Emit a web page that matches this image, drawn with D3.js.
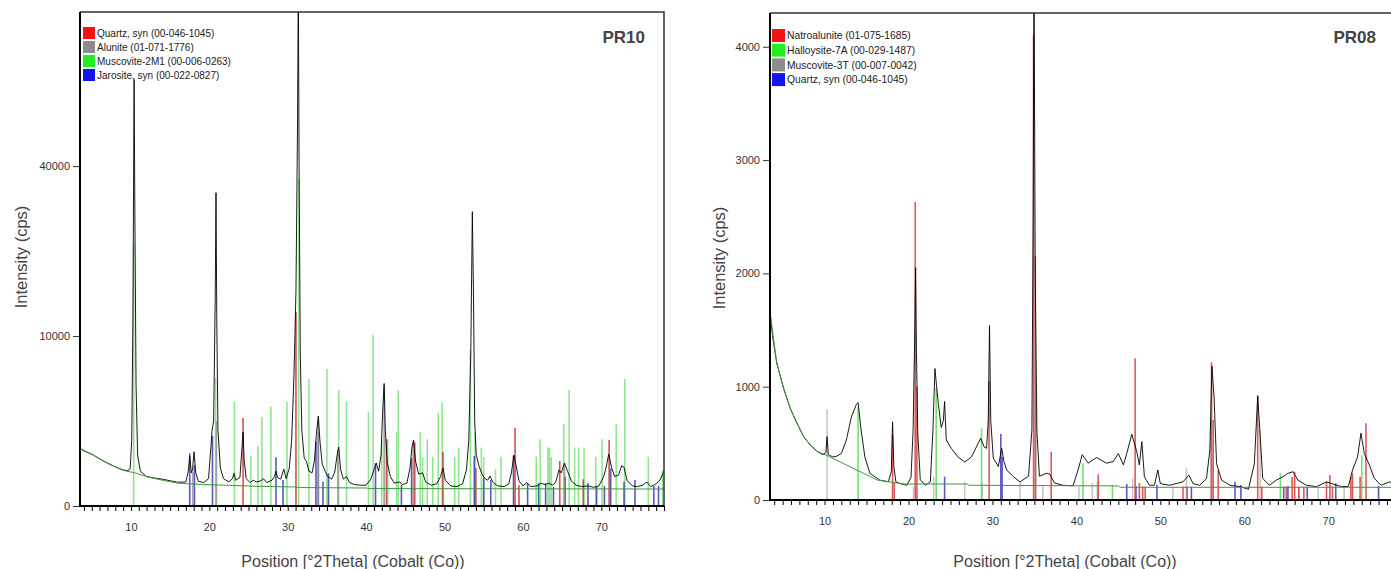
<!DOCTYPE html>
<html>
<head>
<meta charset="utf-8">
<script src="https://cdnjs.cloudflare.com/ajax/libs/d3/7.8.5/d3.min.js"></script>
<style>
body{margin:0;background:#fff;}
svg{display:block;font-family:"Liberation Sans",Arial,sans-serif;}
</style>
</head>
<body>
<svg id="chart" width="1391" height="569"></svg>
<script>
// ---- PR10 (left) : [2theta, cps] ----
var pr10Observed = [[3.5,1150],[4,1050],[5,930],[6,770],[7,640],[8,530],[9,450],[9.6,430],[9.9,480],[10.1,1500],[10.25,12000],[10.4,63000],[10.5,30000],[10.65,5000],[10.85,900],[11.2,420],[12,300],[13,270],[14,250],[15,220],[16,195],[17,200],[17.3,400],[17.5,850],[17.7,380],[17.85,450],[18.05,1020],[18.25,400],[18.6,210],[19.3,190],[19.9,260],[20.2,1200],[20.35,2000],[20.55,2500],[20.75,15000],[20.85,34000],[20.95,12000],[21.1,2000],[21.4,500],[21.8,260],[22.5,200],[22.95,260],[23.15,370],[23.35,230],[23.9,280],[24.1,900],[24.3,1900],[24.45,700],[24.7,260],[25.2,190],[25.6,230],[26.0,200],[26.6,220],[26.9,260],[27.3,190],[28.0,230],[28.3,300],[28.5,420],[28.7,280],[29.1,250],[29.5,470],[29.8,260],[30.2,500],[30.5,1500],[30.8,6000],[31.05,16000],[31.25,50000],[31.35,95000],[31.45,40000],[31.6,8000],[31.8,2000],[32.1,800],[32.4,680],[32.7,420],[33.1,380],[33.4,700],[33.65,1800],[33.9,2800],[34.1,1500],[34.4,600],[34.8,410],[35.1,300],[35.6,250],[36.0,400],[36.3,900],[36.5,1200],[36.75,450],[37.1,250],[37.5,300],[37.9,190],[38.5,160],[39.2,150],[40.0,150],[40.6,250],[41.0,450],[41.3,640],[41.6,420],[41.9,900],[42.1,3000],[42.3,5200],[42.45,2000],[42.7,640],[43.1,300],[43.6,180],[44.3,200],[44.6,160],[45.2,180],[45.6,500],[45.85,1200],[46.05,1500],[46.3,700],[46.7,350],[47.2,380],[47.6,200],[48.3,150],[49.0,170],[49.5,300],[49.8,500],[50.1,230],[50.8,140],[51.6,130],[52.3,170],[52.8,450],[53.1,1500],[53.35,8000],[53.55,30000],[53.7,15000],[53.85,2500],[54.05,900],[54.4,550],[54.8,350],[55.1,270],[55.5,230],[55.8,310],[56.2,190],[56.8,140],[57.6,130],[58.2,170],[58.55,400],[58.85,900],[59.1,600],[59.5,220],[60.0,140],[60.5,190],[61.0,130],[61.8,140],[62.3,180],[62.8,160],[63.3,180],[63.8,150],[64.2,200],[64.6,450],[64.9,380],[65.3,640],[65.7,420],[66.2,210],[66.8,150],[67.5,130],[68.3,140],[69.0,120],[69.7,140],[70.3,300],[70.6,500],[70.95,935],[71.3,520],[71.7,300],[72.2,330],[72.6,560],[72.9,520],[73.3,220],[74.0,140],[74.6,130],[75.3,150],[75.8,200],[76.3,130],[77.0,170],[77.5,240],[78,420]]
var pr10Background = [[3.5,1150],[5,920],[7,630],[9,440],[10.5,380],[12,300],[14,230],[16,180],[19,160],[22,150],[26,135],[31,125],[31.5,118],[40,112],[40.5,105],[78,100]]
var pr10Quartz = [[24.3,2680],[31.05,13000],[42.6,1540],[46.2,1400],[49.8,1020],[54.0,500],[59.0,2120],[59.5,150],[64.7,700],[67.7,246],[71.0,1507]]
var pr10Alunite = [[17.9,400],[20.9,2500],[33.9,2600],[36.4,1100],[42.3,4800],[46.0,1400],[65.3,600]]
var pr10Muscovite = [[10.35,24000],[20.8,5700],[23.2,3770],[25.3,865],[26.2,1250],[26.7,2740],[27.85,3410],[29.9,3770],[31.4,37000],[32.7,5580],[35.0,6490],[36.5,4660],[37.5,3770],[40.3,3080],[40.9,10100],[42.0,1540],[42.75,1540],[43.9,1910],[44.1,4660],[46.9,1910],[47.2,820],[47.8,1540],[48.5,840],[49.2,3010],[49.7,3720],[51.3,840],[51.8,1180],[53.3,8420],[53.9,1910],[54.7,1180],[55.0,840],[56.5,470],[57.2,840],[61.7,840],[62.2,1540],[63.2,1180],[63.4,1180],[63.6,840],[65.2,2310],[65.9,4660],[66.6,1180],[67.1,1180],[67.8,1180],[69.3,840],[70.1,1540],[71.9,2310],[73.0,5580],[76.0,840],[77.8,450]]
var pr10Jarosite = [[17.5,960],[18.1,580],[20.4,1700],[28.5,820],[29.4,234],[33.6,1430],[33.9,1910],[34.5,204],[35.2,369],[41.2,630],[44.5,155],[45.8,790],[53.8,865],[55.0,265],[55.9,234],[58.8,865],[60.6,178],[62.0,178],[62.9,178],[63.9,129],[65.4,297],[68.3,178],[69.4,129],[70.4,140],[71.2,490],[72.9,204],[74.3,234],[76.7,140],[77.3,140]]
var pr10Legend = ["Quartz, syn (00-046-1045)", "Alunite (01-071-1776)", "Muscovite-2M1 (00-006-0263)", "Jarosite, syn (00-022-0827)"]
var pr10YTicks = [0, 10000, 40000]

// ---- PR08 (right) ----
var pr08Observed = [[3.5,1660],[3.8,1450],[4.3,1210],[5.1,990],[5.9,810],[6.7,680],[7.5,560],[8.3,485],[9.1,430],[9.8,400],[10.15,420],[10.3,560],[10.45,400],[11.0,380],[11.4,385],[12.0,410],[12.6,530],[13.2,735],[13.8,845],[14.0,860],[14.3,650],[14.8,380],[15.4,235],[16.6,175],[17.6,160],[17.95,250],[18.1,690],[18.25,300],[18.5,160],[19.0,145],[19.8,130],[20.3,200],[20.55,620],[20.75,1500],[20.85,2050],[20.95,1300],[21.1,600],[21.4,180],[22.0,130],[22.6,160],[22.9,600],[23.15,1160],[23.35,1000],[23.55,850],[23.9,640],[24.15,700],[24.3,870],[24.5,530],[25.1,455],[25.9,380],[26.7,335],[27.5,380],[28.3,500],[28.6,545],[29.0,470],[29.3,456],[29.5,700],[29.65,1540],[29.8,700],[30.1,370],[30.7,295],[31.1,456],[31.4,330],[31.7,265],[32.5,205],[33.3,160],[34.3,210],[34.7,620],[34.85,2500],[34.95,4700],[35.1,2000],[35.3,600],[35.6,210],[36.4,235],[36.8,230],[37.4,150],[38.4,130],[39.6,125],[40.2,265],[40.7,400],[41.4,325],[42.4,375],[43.6,325],[44.4,340],[45.0,410],[45.6,310],[46.0,410],[46.6,580],[47.2,425],[47.5,310],[47.8,515],[48.1,205],[48.7,130],[49.3,130],[49.7,265],[50.0,145],[51.1,130],[51.9,145],[52.7,160],[53.4,220],[53.9,145],[54.7,130],[55.5,190],[55.9,440],[56.15,1180],[56.4,910],[56.7,320],[57.3,175],[58.3,130],[59.5,118],[60.5,95],[61.2,320],[61.6,915],[61.85,620],[62.2,190],[63.0,130],[63.8,175],[64.6,205],[65.2,235],[65.8,250],[66.4,175],[67.4,130],[68.6,118],[69.8,160],[70.6,140],[71.6,118],[72.4,120],[72.9,265],[73.5,380],[73.9,590],[74.3,410],[74.9,310],[75.5,190],[76.3,130],[77.3,160],[77.6,150]]
var pr08Background = [[3.5,1660],[4.3,1210],[5.1,990],[5.9,810],[6.7,680],[7.5,560],[8.3,485],[9.1,430],[10.5,385],[16.3,176],[19.5,141],[27,141],[27.2,130],[45,124],[45.2,112],[77.6,112]]
var pr08Natroalunite = [[18.1,574],[18.3,150],[20.8,2630],[21.0,1000],[29.6,1050],[34.9,4100],[35.1,2150],[37.0,426],[42.6,226],[47.0,1250],[47.5,150],[47.9,118],[48.2,118],[52.7,118],[53.2,118],[56.1,1215],[56.3,706],[56.9,265],[61.6,927],[62.1,118],[65.0,118],[65.7,206],[66.0,250],[66.5,118],[67.1,118],[69.8,162],[70.2,221],[70.5,118],[72.7,206],[72.9,235],[73.8,206],[74.5,677]]
var pr08Halloysite = [[14.0,824],[23.3,986],[28.7,632],[40.8,324],[44.3,132],[64.3,235],[74.0,397]]
var pr08Muscovite = [[10.3,803],[20.6,118],[23.0,206],[26.7,162],[28.8,147],[33.3,162],[35.2,927],[36.0,118],[40.3,118],[41.9,153],[42.5,162],[46.7,191],[51.5,118],[53.1,280],[56.0,706],[61.9,618],[66.5,118],[68.8,118],[71.9,118]]
var pr08Quartz = [[24.3,206],[31.0,582],[31.15,380],[46.0,141],[47.1,124],[49.6,132],[53.7,118],[58.9,162],[59.6,132],[64.7,118],[65.2,124],[67.5,118],[70.9,147],[76.0,124]]
var pr08Legend = ["Natroalunite (01-075-1685)", "Halloysite-7A (00-029-1487)", "Muscovite-3T (00-007-0042)", "Quartz, syn (00-046-1045)"]
var pr08YTicks = [0, 1000, 2000, 3000, 4000]

var xTickLabels = [10, 20, 30, 40, 50, 60, 70]

var svg = d3.select("#chart")

var panels = [
  {name:"pr10", title:"PR10", left:80, right:664, top:12, bottom:506, xDomain:[3.5,78], yDomain:[0,84500], sqrt:true,
   yTicks:pr10YTicks, observed:pr10Observed, background:pr10Background,
   legend:pr10Legend, legendX:83, legendY:27, legendStep:14, legendSize:12, legendFont:10,
   phases:[
     {sticks:pr10Muscovite, color:"#7ee07e", key:"#22ee22"},
     {sticks:pr10Jarosite, color:"#3c3cb0", key:"#1414ee"},
     {sticks:pr10Alunite, color:"#909090", key:"#8c8c8c"},
     {sticks:pr10Quartz, color:"#c83232", key:"#f01414"}
   ], order:[3,2,0,1], titleX:645, yTitleX:21, yTitleY:257, xTitleX:353},
  {name:"pr08", title:"PR08", left:770, right:1392, top:13, bottom:500, xDomain:[3.5,77.6], yDomain:[0,4298], sqrt:false,
   yTicks:pr08YTicks, observed:pr08Observed, background:pr08Background,
   legend:pr08Legend, legendX:772, legendY:29, legendStep:14.7, legendSize:13, legendFont:10.3,
   phases:[
     {sticks:pr08Muscovite, color:"#bdbdbd", key:"#8c8c8c"},
     {sticks:pr08Halloysite, color:"#5adc5a", key:"#22ee22"},
     {sticks:pr08Quartz, color:"#3c3cc0", key:"#1414ee"},
     {sticks:pr08Natroalunite, color:"#d83c3c", key:"#f01414"}
   ], order:[3,1,0,2], titleX:1376, yTitleX:719, yTitleY:258, xTitleX:1065}
]

function drawPanel(p){
  var g = svg.append("g")
  var x = d3.scaleLinear().domain(p.xDomain).range([p.left, p.right])
  var y = (p.sqrt ? d3.scaleSqrt() : d3.scaleLinear()).domain(p.yDomain).range([p.bottom, p.top])

  svg.append("clipPath").attr("id", "clip-" + p.name)
    .append("rect")
      .attr("x", p.left).attr("y", p.top)
      .attr("width", p.right - p.left).attr("height", p.bottom - p.top)
  var plot = g.append("g").attr("clip-path", "url(#clip-" + p.name + ")")

  // reference sticks
  p.phases.forEach(function(ph){
    plot.selectAll(null).data(ph.sticks).enter().append("line")
      .attr("x1", function(d){ return x(d[0]) })
      .attr("x2", function(d){ return x(d[0]) })
      .attr("y1", y(0))
      .attr("y2", function(d){ return y(d[1]) })
      .attr("stroke", ph.color)
      .attr("stroke-width", 1.6)
      .attr("stroke-opacity", 0.85)
  })

  var line = d3.line()
    .x(function(d){ return x(d[0]) })
    .y(function(d){ return y(d[1]) })

  plot.append("path")
    .datum(p.observed)
    .attr("fill", "none")
    .attr("stroke", "#000")
    .attr("stroke-width", 0.9)
    .attr("stroke-linejoin", "round")
    .attr("d", line)
  plot.append("path")
    .datum(p.background)
    .attr("fill", "none")
    .attr("stroke", "#3a9a3a")
    .attr("stroke-width", 1)
    .attr("d", line)

  // frame
  g.append("path")
    .attr("d", "M" + p.left + "," + p.top + "H" + p.right + "V" + p.bottom)
    .attr("fill", "none").attr("stroke", "#333").attr("stroke-width", 1.5)

  // x axis
  var xAxis = d3.axisBottom(x)
    .tickValues(d3.range(4, Math.floor(p.xDomain[1]) + 1))
    .tickSize(5).tickPadding(12)
    .tickFormat(function(d){ return xTickLabels.indexOf(d) >= 0 ? d : "" })
  var xg = g.append("g").attr("transform", "translate(0," + p.bottom + ")").call(xAxis)
  xg.select(".domain").remove()
  xg.selectAll(".tick line").attr("stroke", "#000")
  xg.selectAll("text").attr("font-size", 11).attr("fill", "#333").attr("font-family", "Liberation Sans, Arial, sans-serif")

  // y axis
  var yAxis = d3.axisLeft(y).tickValues(p.yTicks).tickSize(7).tickPadding(3).tickFormat(d3.format("d"))
  var yg = g.append("g").attr("transform", "translate(" + p.left + ",0)").call(yAxis)
  yg.select(".domain").remove()
  yg.selectAll(".tick line").attr("stroke", "#333")
  yg.selectAll("text").attr("font-size", 11).attr("fill", "#333").attr("font-family", "Liberation Sans, Arial, sans-serif")

  // axis lines
  g.append("path")
    .attr("d", "M" + p.left + "," + p.top + "V" + p.bottom + "H" + p.right)
    .attr("fill", "none").attr("stroke", "#000").attr("stroke-width", 2)

  // legend
  p.order.forEach(function(pi, i){
    var yy = p.legendY + i * p.legendStep
    g.append("rect").attr("x", p.legendX).attr("y", yy)
      .attr("width", p.legendSize).attr("height", p.legendSize)
      .attr("fill", p.phases[pi].key)
    g.append("text").attr("x", p.legendX + p.legendSize + 2).attr("y", yy + p.legendSize / 2)
      .attr("dy", "0.35em").attr("font-size", p.legendFont).attr("fill", "#222")
      .text(p.legend[i])
  })

  g.append("text").attr("x", p.titleX).attr("y", 43).attr("text-anchor", "end")
    .attr("font-size", 17).attr("font-weight", "bold").attr("fill", "#444").text(p.title)

  g.append("text")
    .attr("transform", "translate(" + [p.yTitleX, p.yTitleY] + ")rotate(-90)")
    .attr("text-anchor", "middle").attr("dy", "0.35em")
    .attr("font-size", 16.5).attr("fill", "#444").text("Intensity (cps)")
  g.append("text")
    .attr("x", p.xTitleX).attr("y", 561).attr("text-anchor", "middle").attr("dy", "0.35em")
    .attr("font-size", 16).attr("fill", "#444").text("Position [°2Theta] (Cobalt (Co))")
}

panels.forEach(drawPanel)
</script>
</body>
</html>
